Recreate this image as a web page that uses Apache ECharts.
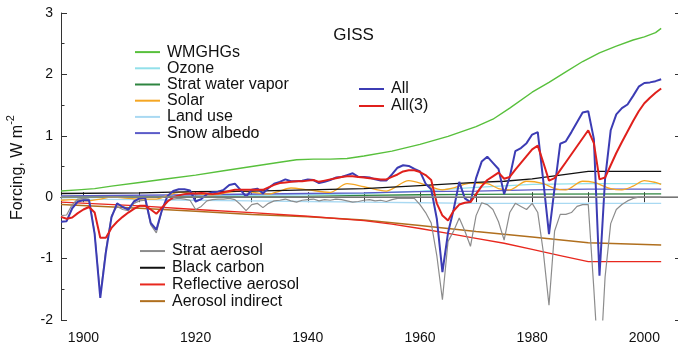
<!DOCTYPE html>
<html>
<head>
<meta charset="utf-8">
<script src="https://cdn.jsdelivr.net/npm/echarts@6/dist/echarts.min.js"></script>
<style>
  html, body { margin: 0; padding: 0; background: #fff; }
  #chart { width: 678px; height: 347px; }
</style>
</head>
<body>
<div id="chart"></div>
<script>
// GISS climate forcings (W m-2), relative to 1880

// Annual series: first year and yearly values
const annualStart = 1896;

const allForcings = [
  -0.40, -0.39, -0.18, -0.07, -0.05, -0.05, -0.60, -1.64, -0.90, -0.33,
  -0.10, -0.16, -0.20, -0.07, -0.02, -0.01, -0.42, -0.53, -0.21, 0.02,
  0.10, 0.13, 0.13, 0.11, -0.07, -0.03, 0.05, 0.08, 0.09, 0.12,
  0.20, 0.22, 0.12, 0.01, 0.12, 0.14, 0.06, 0.15, 0.22, 0.25,
  0.29, 0.26, 0.26, 0.27, 0.29, 0.28, 0.23, 0.25, 0.28, 0.32,
  0.33, 0.36, 0.39, 0.33, 0.33, 0.32, 0.29, 0.27, 0.27, 0.37,
  0.48, 0.52, 0.51, 0.46, 0.42, 0.22, 0.13, -0.35, -1.22, -0.58,
  -0.20, 0.25, -0.02, -0.08, 0.31, 0.58, 0.66, 0.56, 0.46, 0.05,
  0.33, 0.75, 0.80, 0.88, 1.02, 1.06, 0.25, -0.60, 0.15, 0.87,
  0.91, 1.06, 1.22, 1.38, 1.40, 0.95, -1.28, 0.30, 1.09, 1.35,
  1.45, 1.51, 1.65, 1.80, 1.86, 1.87, 1.89, 1.92
];

const allThree = [
  -0.32, -0.35, -0.33, -0.26, -0.20, -0.16, -0.25, -0.66, -0.66, -0.50,
  -0.40, -0.32, -0.25, -0.19, -0.14, -0.14, -0.20, -0.27, -0.17, -0.07,
  0.00, 0.03, 0.05, 0.06, 0.06, 0.07, 0.06, 0.05, 0.06, 0.08,
  0.10, 0.12, 0.12, 0.12, 0.12, 0.12, 0.12, 0.16, 0.20, 0.23,
  0.24, 0.25, 0.26, 0.26, 0.27, 0.28, 0.25, 0.27, 0.29, 0.31,
  0.33, 0.34, 0.34, 0.33, 0.32, 0.31, 0.30, 0.29, 0.29, 0.33,
  0.37, 0.42, 0.44, 0.44, 0.41, 0.36, 0.28, -0.10, -0.30, -0.38,
  -0.22, -0.12, -0.09, -0.08, 0.05, 0.18, 0.28, 0.34, 0.40, 0.30,
  0.33, 0.45, 0.56, 0.67, 0.78, 0.84, 0.56, 0.27, 0.31, 0.44,
  0.57, 0.70, 0.83, 0.96, 1.09, 0.88, 0.29, 0.32, 0.52, 0.72,
  0.90, 1.07, 1.24, 1.40, 1.53, 1.62, 1.70, 1.77
];

const stratAerosol = [
  -0.30, -0.29, -0.12, -0.03, -0.02, -0.03, -0.58, -1.58, -0.85, -0.30,
  -0.15, -0.20, -0.22, -0.10, -0.06, -0.05, -0.45, -0.58, -0.22, -0.05,
  -0.03, -0.02, -0.03, -0.05, -0.20, -0.15, -0.06, -0.04, -0.03, -0.03,
  -0.02, -0.04, -0.12, -0.22, -0.12, -0.10, -0.17, -0.10, -0.06, -0.05,
  -0.03, -0.06, -0.08, -0.05, -0.04, -0.03, -0.06, -0.04, -0.05, -0.03,
  -0.04, -0.06, -0.08, -0.07, -0.05, -0.04, -0.06, -0.05, -0.07, -0.04,
  -0.02, -0.02, -0.02, -0.02, -0.12, -0.25, -0.42, -0.95, -1.67, -0.72,
  -0.55, -0.34, -0.55, -0.80, -0.30, -0.09, -0.12, -0.20, -0.40, -0.70,
  -0.25, -0.10, -0.15, -0.20, -0.10, -0.25, -0.90, -1.76, -0.55, -0.28,
  -0.28, -0.25, -0.15, -0.12, -0.12, -1.50, -3.00, -1.30, -0.43, -0.20,
  -0.12, -0.06, -0.02, 0.00, 0.00, 0.00, 0.00, 0.00
];

// Slowly varying series: sample years and values
const ghgYears   = [1896, 1899, 1902, 1905, 1910, 1915, 1920, 1925, 1930, 1935, 1938, 1941, 1944, 1947, 1950, 1955, 1960, 1965, 1970, 1973, 1976, 1980, 1983, 1986, 1989, 1992, 1995, 1998, 2000, 2002, 2003];
const ghgValues  = [0.10, 0.12, 0.14, 0.18, 0.24, 0.30, 0.36, 0.43, 0.50, 0.57, 0.61, 0.62, 0.62, 0.63, 0.67, 0.75, 0.86, 0.99, 1.15, 1.27, 1.45, 1.71, 1.87, 2.04, 2.21, 2.35, 2.46, 2.56, 2.61, 2.68, 2.75];

const ozoneYears  = [1896, 1910, 1920, 1930, 1940, 1950, 1960, 1970, 1980, 1990, 2003];
const ozoneValues = [0.00, 0.01, 0.02, 0.03, 0.04, 0.06, 0.10, 0.16, 0.21, 0.22, 0.22];

const h2oYears  = [1896, 1920, 1940, 1950, 1960, 1970, 1980, 2003];
const h2oValues = [0.005, 0.01, 0.015, 0.03, 0.04, 0.045, 0.05, 0.055];

const solarYears  = [1896, 1898, 1901, 1903, 1905, 1907, 1910, 1913, 1915, 1917, 1920, 1923, 1926, 1928, 1931, 1933, 1935, 1937, 1940, 1944, 1947, 1950, 1954, 1958, 1961, 1964, 1966, 1969, 1972, 1974, 1976, 1979, 1982, 1984, 1986, 1989, 1991, 1994, 1996, 1998, 2000, 2002, 2003];
const solarValues = [-0.05, -0.04, -0.06, -0.03, 0.00, -0.01, -0.03, -0.03, 0.03, 0.08, 0.06, 0.04, 0.08, 0.10, 0.07, 0.05, 0.10, 0.15, 0.12, 0.08, 0.22, 0.17, 0.10, 0.27, 0.20, 0.12, 0.15, 0.23, 0.22, 0.14, 0.12, 0.26, 0.22, 0.14, 0.12, 0.26, 0.24, 0.14, 0.12, 0.18, 0.27, 0.24, 0.21];

const landYears  = [1896, 1910, 1920, 1930, 1940, 1950, 1960, 1970, 1980, 2003];
const landValues = [-0.03, -0.04, -0.05, -0.06, -0.07, -0.08, -0.09, -0.10, -0.10, -0.10];

const snowYears  = [1896, 1920, 1940, 1950, 1960, 1970, 1980, 1990, 2003];
const snowValues = [0.02, 0.04, 0.06, 0.07, 0.09, 0.10, 0.12, 0.13, 0.13];

const bcYears  = [1896, 1910, 1920, 1930, 1940, 1950, 1960, 1970, 1975, 1980, 1985, 1990, 2003];
const bcValues = [0.06, 0.07, 0.09, 0.10, 0.12, 0.14, 0.19, 0.24, 0.26, 0.30, 0.36, 0.42, 0.42];

const reflYears  = [1896, 1910, 1920, 1930, 1940, 1950, 1955, 1960, 1965, 1970, 1975, 1980, 1985, 1990, 2003];
const reflValues = [-0.08, -0.14, -0.20, -0.25, -0.31, -0.38, -0.44, -0.51, -0.59, -0.67, -0.75, -0.85, -0.95, -1.05, -1.05];

const aieYears  = [1896, 1910, 1920, 1930, 1940, 1950, 1960, 1970, 1980, 1990, 2003];
const aieValues = [-0.12, -0.18, -0.23, -0.28, -0.32, -0.37, -0.46, -0.56, -0.65, -0.74, -0.78];

// Axis ticks
const yearTicks  = [1900, 1910, 1920, 1930, 1940, 1950, 1960, 1970, 1980, 1990, 2000];
const yearLabels = [1900, 1920, 1940, 1960, 1980, 2000];

const FONT = '"Liberation Sans", Arial, Helvetica, sans-serif';
const AXIS_COLOR = '#333';

function annual(values) {
  return values.map((v, i) => [annualStart + i, v]);
}
function paired(years, values) {
  return years.map((y, i) => [y, values[i]]);
}
function line(name, data, color, width, extra) {
  return Object.assign({
    name: name,
    type: 'line',
    data: data,
    color: color,
    showSymbol: false,
    symbol: 'none',
    clip: true,
    silent: true,
    lineStyle: { color: color, width: width },
    z: 2
  }, extra || {});
}

const series = [
  line('Land use', paired(landYears, landValues), '#a9d9f2', 1.3, {
    markLine: {
      silent: true,
      symbol: 'none',
      label: { show: false },
      lineStyle: { color: '#8c8c8c', width: 1.6, type: 'solid' },
      data: [{ yAxis: 0 }]
    }
  }),
  line('Ozone', paired(ozoneYears, ozoneValues), '#92e0ea', 1.3),
  line('Strat water vapor', paired(h2oYears, h2oValues), '#2e8540', 1.3),
  line('Snow albedo', paired(snowYears, snowValues), '#5b5bc8', 1.3),
  line('Solar', paired(solarYears, solarValues), '#f5a623', 1.3, { smooth: 0.3 }),
  line('Black carbon', paired(bcYears, bcValues), '#111111', 1.3),
  line('Aerosol indirect', paired(aieYears, aieValues), '#b06f1e', 1.5),
  line('Reflective aerosol', paired(reflYears, reflValues), '#e8281e', 1.3),
  line('Strat aerosol', annual(stratAerosol), '#8c8c8c', 1.2),
  line('WMGHGs', paired(ghgYears, ghgValues), '#58c03c', 1.4),
  line('All', annual(allForcings), '#3c3cb4', 2, { z: 3 }),
  line('All(3)', annual(allThree), '#e0201c', 2, { z: 4 })
];

function legendBlock(names, left, top, pitch) {
  return {
    data: names,
    orient: 'vertical',
    left: left,
    top: top,
    icon: 'rect',
    itemWidth: 25,
    itemHeight: 2,
    itemGap: 0,
    selectedMode: false,
    padding: 0,
    textStyle: {
      fontFamily: FONT,
      fontSize: 16,
      color: '#111',
      lineHeight: pitch,
      padding: [0, 0, 0, 2]
    }
  };
}

const chart = echarts.init(document.getElementById('chart'), null, { renderer: 'canvas' });

chart.setOption({
  animation: false,
  backgroundColor: '#fff',
  textStyle: { fontFamily: FONT },
  grid: { left: 61, right: 0, top: 13, bottom: 27 },
  legend: [
    legendBlock(['WMGHGs', 'Ozone', 'Strat water vapor', 'Solar', 'Land use', 'Snow albedo'], 135, 44, 16.2),
    legendBlock(['All', 'All(3)'], 359, 80.5, 17),
    legendBlock(['Strat aerosol', 'Black carbon', 'Reflective aerosol', 'Aerosol indirect'], 140, 242.7, 16.7)
  ],
  graphic: [
    {
      type: 'text',
      x: 353.5,
      y: 35,
      style: {
        text: 'GISS',
        fontFamily: FONT,
        fontSize: 17,
        fill: '#111',
        align: 'center',
        verticalAlign: 'middle'
      }
    },
    {
      type: 'text',
      x: 15.5,
      y: 167.5,
      rotation: Math.PI / 2,
      style: {
        text: '{a|Forcing, W m}{s|-2}',
        fill: '#111',
        align: 'center',
        verticalAlign: 'middle',
        rich: {
          a: { fontFamily: FONT, fontSize: 16, lineHeight: 20, verticalAlign: 'bottom', fill: '#111' },
          s: { fontFamily: FONT, fontSize: 11, lineHeight: 20, verticalAlign: 'top', fill: '#111' }
        }
      }
    }
  ],
  xAxis: [
    {
      type: 'value',
      position: 'bottom',
      min: 1896,
      max: 2006,
      axisLine: { show: true, lineStyle: { color: AXIS_COLOR, width: 1 } },
      axisTick: { show: true, inside: true, length: 5, customValues: yearTicks, lineStyle: { color: AXIS_COLOR } },
      axisLabel: {
        show: true,
        customValues: yearLabels,
        margin: 11,
        fontSize: 14,
        color: '#111',
        fontFamily: FONT,
        formatter: v => String(v)
      },
      splitLine: { show: false }
    },
    {
      type: 'value',
      position: 'top',
      min: 1896,
      max: 2006,
      axisLine: { show: true, lineStyle: { color: AXIS_COLOR, width: 1 } },
      axisTick: { show: true, inside: true, length: 5, customValues: yearTicks, lineStyle: { color: AXIS_COLOR } },
      axisLabel: { show: false },
      splitLine: { show: false }
    }
  ],
  yAxis: [
    {
      type: 'value',
      position: 'left',
      min: -2,
      max: 3,
      interval: 1,
      axisLine: { show: true, lineStyle: { color: AXIS_COLOR, width: 1 } },
      axisTick: { show: true, inside: true, length: 6, lineStyle: { color: AXIS_COLOR } },
      minorTick: { show: true, splitNumber: 2, length: 3.5, lineStyle: { color: AXIS_COLOR } },
      axisLabel: { margin: 8, fontSize: 14, color: '#111', fontFamily: FONT },
      splitLine: { show: false }
    },
    {
      type: 'value',
      position: 'right',
      min: -2,
      max: 3,
      interval: 1,
      axisLine: { show: false },
      axisTick: { show: true, inside: true, length: 3, lineStyle: { color: AXIS_COLOR } },
      axisLabel: { show: false },
      splitLine: { show: false }
    }
  ],
  series: series
});
</script>
</body>
</html>
